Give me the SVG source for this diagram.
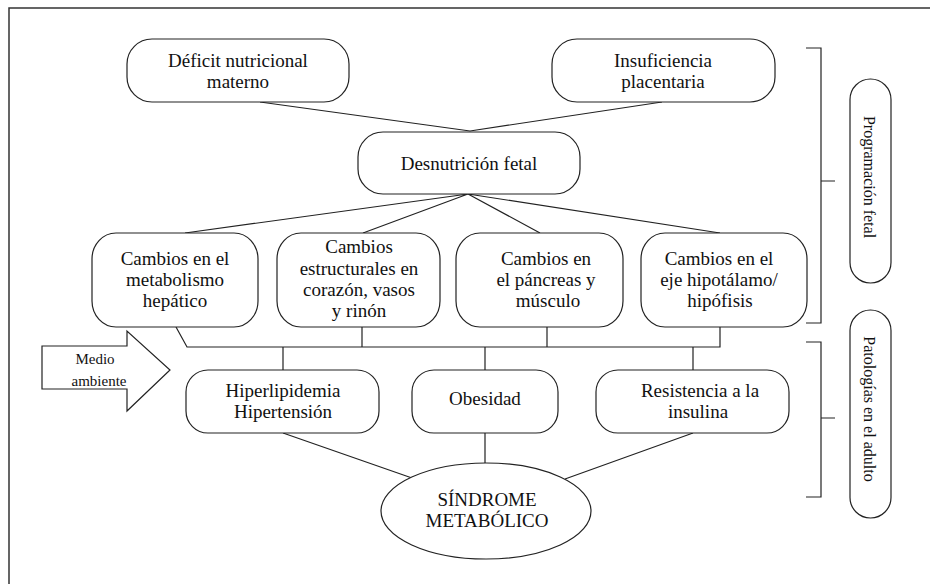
<svg xmlns="http://www.w3.org/2000/svg" width="930" height="584" viewBox="0 0 930 584" font-family="Liberation Serif, serif">
<style>
.box{fill:#fff;stroke:#222;stroke-width:1.2}
.t{font-family:'Liberation Serif',serif;font-size:19px;fill:#111;text-anchor:middle}
.s{font-family:'Liberation Serif',serif;font-size:15px;fill:#111;text-anchor:middle}
.v{font-family:'Liberation Serif',serif;font-size:16px;fill:#111;text-anchor:middle}
.ln{fill:none;stroke:#222;stroke-width:1.2}
</style>
<rect width="930" height="584" fill="#fff"/>
<path d="M9,590 V8 H940" fill="none" stroke="#333" stroke-width="1.5"/>
<g id="connectors">
<path class="ln" d="M260,102 L470,131 L662,102"/>
<path class="ln" d="M185,233 L468,194 L363,233 M468,194 L540,233 M468,194 L720,233"/>
<path class="ln" d="M176,327 L187,347 H720 V327 M362,327 V347 M547,327 V347"/>
<path class="ln" d="M283,347 V370 M485,347 V370 M693,347 V370"/>
<path class="ln" d="M283,433 L412,478 M485,433 V463 M693,433 L565,479"/>
<path class="ln" d="M806,48 H821 V323 H806 M821,181 H835"/>
<path class="ln" d="M806,342 H821 V497 H806 M821,418 H835"/>
</g>
<g id="deficit"><rect class="box" x="127" y="39" width="222" height="63" rx="25" ry="25"/>
<text class="t" x="238" y="67">Déficit nutricional</text><text class="t" x="238" y="88">materno</text></g>
<g id="insuficiencia"><rect class="box" x="552" y="39" width="223" height="63" rx="25" ry="25"/>
<text class="t" x="663" y="67">Insuficiencia</text><text class="t" x="663" y="88">placentaria</text></g>
<g id="desnutricion"><rect class="box" x="358" y="132" width="222" height="62" rx="25" ry="25"/>
<text class="t" x="469" y="170">Desnutrición fetal</text></g>
<g id="hepatico"><rect class="box" x="92" y="233" width="166" height="94" rx="24" ry="26"/>
<text class="t" x="175" y="265">Cambios en el</text><text class="t" x="175" y="286">metabolismo</text><text class="t" x="175" y="307">hepático</text></g>
<g id="estructurales"><rect class="box" x="277" y="233" width="163" height="94" rx="24" ry="26"/>
<text class="t" x="359" y="253">Cambios</text><text class="t" x="359" y="275">estructurales en</text><text class="t" x="359" y="296">corazón, vasos</text><text class="t" x="359" y="317">y rinón</text></g>
<g id="pancreas"><rect class="box" x="456" y="233" width="167" height="94" rx="24" ry="26"/>
<text class="t" x="546" y="265">Cambios en</text><text class="t" x="546" y="286">el páncreas y</text><text class="t" x="548" y="307">músculo</text></g>
<g id="hipotalamo"><rect class="box" x="641" y="233" width="166" height="94" rx="24" ry="26"/>
<text class="t" x="719" y="265">Cambios en el</text><text class="t" x="719" y="286">eje hipotálamo/</text><text class="t" x="720" y="307">hipófisis</text></g>
<g id="medio"><path class="box" d="M42,346 H127 V331 L170,370 L127,411 V389 H42 Z"/>
<text class="s" x="95" y="364">Medio</text><text class="s" x="99" y="386">ambiente</text></g>
<g id="hiperlipidemia"><rect class="box" x="186" y="370" width="193" height="63" rx="22" ry="22"/>
<text class="t" x="283" y="397">Hiperlipidemia</text><text class="t" x="283" y="418">Hipertensión</text></g>
<g id="obesidad"><rect class="box" x="412" y="370" width="146" height="63" rx="22" ry="22"/>
<text class="t" x="485" y="405">Obesidad</text></g>
<g id="resistencia"><rect class="box" x="596" y="370" width="193" height="63" rx="22" ry="22"/>
<text class="t" x="700" y="397">Resistencia a la</text><text class="t" x="698" y="418">insulina</text></g>
<g id="sindrome"><ellipse class="box" cx="486" cy="511" rx="105" ry="48"/>
<text class="t" x="487" y="506">SÍNDROME</text><text class="t" x="487" y="527">METABÓLICO</text></g>
<g id="programacion"><rect class="box" x="850" y="79" width="41" height="204" rx="20.5" ry="20.5"/>
<text class="v" transform="translate(864,177) rotate(90)">Programación fetal</text></g>
<g id="patologias"><rect class="box" x="850" y="310" width="41" height="208" rx="20.5" ry="20.5"/>
<text class="v" transform="translate(864,409) rotate(90)">Patologías en el adulto</text></g>
</svg>
